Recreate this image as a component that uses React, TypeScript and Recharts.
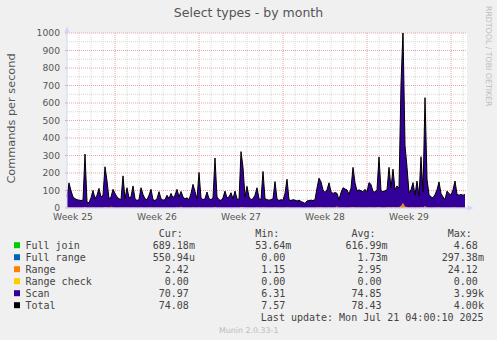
import { Area, CartesianGrid, ComposedChart, Line, ReferenceLine, XAxis, YAxis } from "recharts";

// 4-hour samples (commands per second)
const scan = [
  60, 140, 95, 60, 50, 45, 42, 40, 42, 303,
  30, 28, 55, 97, 50, 70, 108, 60, 70, 230,
  150, 50, 55, 103, 80, 60, 50, 45, 179, 50,
  112, 55, 60, 122, 50, 40, 45, 112, 74, 50,
  45, 70, 103, 45, 40, 50, 90, 50, 42, 45,
  70, 50, 80, 55, 70, 103, 60, 88, 60, 50,
  55, 45, 80, 131, 90, 50, 198, 55, 45, 50,
  88, 50, 45, 55, 280, 60, 45, 40, 55, 93,
  55, 60, 84, 50, 93, 50, 45, 316, 227, 60,
  120, 60, 45, 50, 70, 112, 50, 45, 204, 50,
  45, 42, 45, 50, 147, 50, 40, 45, 42, 80,
  160, 45, 40, 45, 42, 38, 42, 35, 30, 25,
  38, 40, 42, 40, 45, 110, 166, 145, 100, 85,
  100, 140, 90, 80, 85, 75, 45, 85, 112, 105,
  100, 75, 110, 227, 140, 95, 100, 95, 90, 103,
  90, 141, 131, 90, 88, 100, 286, 95, 90, 95,
  100, 227, 110, 217, 100, 122, 110, 697, 983, 350,
  228, 84, 100, 141, 70, 150, 65, 287, 90, 620,
  160, 74, 60, 55, 74, 100, 145, 80, 60, 46,
  93, 80, 70, 100, 150, 75, 70, 74, 70, 74,
];

const range = [
  3.1, 2.8, 2.6, 2.4, 2.5, 2.2, 2.1, 2.3, 2.0, 4.2,
  2.1, 1.8, 2.2, 2.9, 2.4, 2.6, 3.4, 2.5, 2.7, 4.8,
  3.6, 2.9, 6.1, 3.2, 2.8, 2.6, 2.4, 2.2, 3.9, 2.3,
  3.0, 2.4, 2.6, 3.3, 2.4, 2.1, 2.2, 3.1, 2.6, 2.3,
  2.2, 2.5, 3.0, 2.1, 2.0, 2.2, 2.8, 2.3, 2.1, 2.2,
  2.6, 2.3, 2.7, 2.4, 2.6, 3.0, 2.5, 5.8, 2.6, 2.3,
  2.4, 2.2, 2.7, 3.4, 2.9, 2.3, 4.1, 2.4, 2.2, 2.3,
  2.8, 2.3, 2.2, 2.4, 4.9, 2.5, 2.2, 2.1, 2.4, 2.9,
  2.4, 2.5, 2.8, 2.3, 2.9, 2.3, 2.2, 5.2, 4.3, 2.5,
  3.1, 2.5, 2.2, 2.3, 2.6, 3.0, 2.3, 2.2, 4.0, 2.3,
  2.2, 2.1, 2.2, 2.3, 3.3, 2.3, 2.0, 2.2, 2.1, 2.7,
  3.5, 2.2, 2.0, 2.2, 2.1, 1.9, 2.1, 1.8, 1.6, 1.2,
  1.9, 2.0, 2.1, 2.0, 2.2, 3.0, 3.8, 3.5, 2.9, 2.7,
  2.9, 3.4, 2.8, 2.7, 2.7, 8.3, 2.2, 2.7, 3.0, 2.9,
  2.9, 2.6, 3.0, 4.4, 3.4, 2.9, 3.0, 2.9, 2.8, 3.0,
  2.8, 3.4, 3.3, 2.8, 2.8, 3.0, 5.1, 2.9, 2.8, 2.9,
  3.0, 4.5, 3.0, 4.3, 3.0, 3.2, 3.0, 9.6, 24.1, 6.2,
  4.5, 2.7, 3.0, 3.4, 2.6, 3.5, 2.5, 5.0, 2.8, 8.8,
  3.5, 2.6, 2.4, 2.3, 2.6, 3.0, 3.4, 2.7, 2.4, 2.2,
  2.8, 2.7, 2.6, 3.0, 3.5, 2.6, 2.6, 2.6, 2.5, 2.4,
];

const fullJoin = [
  0.6, 0.7, 0.6, 0.5, 0.6, 0.6, 0.5, 0.5, 0.6, 0.9,
  0.5, 0.4, 0.5, 0.7, 0.6, 0.6, 0.8, 0.6, 0.6, 0.9,
  0.8, 0.6, 0.7, 0.7, 0.6, 0.6, 0.5, 0.5, 0.8, 0.5,
  0.7, 0.5, 0.6, 0.7, 0.5, 0.5, 0.5, 0.7, 0.6, 0.5,
  0.5, 0.6, 0.7, 0.5, 0.5, 0.5, 0.6, 0.5, 0.5, 0.5,
  0.6, 0.5, 0.6, 0.5, 0.6, 0.7, 0.6, 0.7, 0.6, 0.5,
  0.6, 0.5, 0.6, 0.7, 0.6, 0.5, 0.8, 0.5, 0.5, 0.5,
  0.6, 0.5, 0.5, 0.5, 0.9, 0.6, 0.5, 0.5, 0.5, 0.6,
  0.5, 0.6, 0.6, 0.5, 0.6, 0.5, 0.5, 1.0, 0.8, 0.6,
  0.7, 0.6, 0.5, 0.5, 0.6, 0.7, 0.5, 0.5, 0.8, 0.5,
  0.5, 0.5, 0.5, 0.5, 0.7, 0.5, 0.4, 0.5, 0.5, 0.6,
  0.7, 0.5, 0.4, 0.5, 0.5, 0.4, 0.5, 0.4, 0.3, 0.1,
  0.4, 0.4, 0.5, 0.4, 0.5, 0.6, 0.7, 0.7, 0.6, 0.6,
  0.6, 0.7, 0.6, 0.6, 0.6, 0.6, 0.5, 0.6, 0.7, 0.6,
  0.6, 0.6, 0.7, 0.8, 0.7, 0.6, 0.6, 0.6, 0.6, 0.7,
  0.6, 0.7, 0.7, 0.6, 0.6, 0.6, 0.9, 0.6, 0.6, 0.6,
  0.7, 0.8, 0.7, 0.8, 0.6, 0.7, 0.7, 2.1, 4.6, 1.3,
  1.0, 0.6, 0.7, 0.7, 0.6, 0.7, 0.6, 0.9, 0.6, 1.6,
  0.8, 0.6, 0.6, 0.5, 0.6, 0.7, 0.7, 0.6, 0.6, 0.5,
  0.6, 0.6, 0.6, 0.7, 0.7, 0.6, 0.6, 0.7, 0.6, 0.7,
];

const fullRange = [
  0, 0, 0, 0, 0, 0, 0, 0, 0, 0,
  0, 0, 0, 0, 0, 0, 0, 0, 0, 0,
  0, 0, 0, 0, 0, 0, 0, 0, 0, 0,
  0, 0, 0, 0, 0, 0, 0, 0, 0, 0,
  0, 0, 0, 0, 0, 0, 0, 0, 0, 0,
  0, 0, 0, 0, 0, 0, 0, 0, 0, 0,
  0, 0, 0, 0, 0, 0, 0, 0, 0, 0,
  0, 0, 0, 0, 0, 0, 0, 0, 0, 0,
  0, 0, 0, 0, 0, 0, 0, 0.01, 0, 0,
  0, 0, 0, 0, 0, 0, 0, 0, 0, 0,
  0, 0, 0, 0, 0, 0, 0, 0, 0, 0,
  0, 0, 0, 0, 0, 0, 0, 0, 0, 0,
  0, 0, 0, 0, 0, 0, 0, 0, 0, 0,
  0, 0, 0, 0, 0, 0, 0, 0, 0, 0,
  0, 0, 0, 0, 0, 0, 0, 0, 0, 0,
  0, 0, 0, 0, 0, 0, 0, 0, 0, 0,
  0, 0, 0, 0, 0, 0, 0, 0.05, 0.3, 0,
  0, 0, 0, 0, 0, 0, 0, 0, 0, 0,
  0, 0, 0, 0, 0, 0, 0, 0, 0, 0,
  0, 0, 0, 0, 0, 0, 0, 0, 0, 0,
];

const rangeCheck = [
  0, 0, 0, 0, 0, 0, 0, 0, 0, 0, 0, 0, 0, 0, 0, 0, 0, 0, 0, 0,
  0, 0, 0, 0, 0, 0, 0, 0, 0, 0, 0, 0, 0, 0, 0, 0, 0, 0, 0, 0,
  0, 0, 0, 0, 0, 0, 0, 0, 0, 0, 0, 0, 0, 0, 0, 0, 0, 0, 0, 0,
  0, 0, 0, 0, 0, 0, 0, 0, 0, 0, 0, 0, 0, 0, 0, 0, 0, 0, 0, 0,
  0, 0, 0, 0, 0, 0, 0, 0, 0, 0, 0, 0, 0, 0, 0, 0, 0, 0, 0, 0,
  0, 0, 0, 0, 0, 0, 0, 0, 0, 0, 0, 0, 0, 0, 0, 0, 0, 0, 0, 0,
  0, 0, 0, 0, 0, 0, 0, 0, 0, 0, 0, 0, 0, 0, 0, 0, 0, 0, 0, 0,
  0, 0, 0, 0, 0, 0, 0, 0, 0, 0, 0, 0, 0, 0, 0, 0, 0, 0, 0, 0,
  0, 0, 0, 0, 0, 0, 0, 0, 0, 0, 0, 0, 0, 0, 0, 0, 0, 0, 0, 0,
  0, 0, 0, 0, 0, 0, 0, 0, 0, 0, 0, 0, 0, 0, 0, 0, 0, 0, 0, 0,
];

const stepHours = 4;
const weekStartHours = [96, 264, 432, 600, 768];
const weekLabelHours = [12, 180, 348, 516, 684];
const weekLabels = ["Week 25", "Week 26", "Week 27", "Week 28", "Week 29"];
const dayHours = Array.from({ length: 33 }, (_, k) => 24 * (k + 1)).filter((h) => !weekStartHours.includes(h));
const majorY = [0, 100, 200, 300, 400, 500, 600, 700, 800, 900, 1000];
const minorY = [50, 150, 250, 350, 450, 550, 650, 750, 850, 950];

const seriesNames = ["Full join", "Full range", "Range", "Range check", "Scan", "Total"];
const seriesKeys = ["fullJoin", "fullRange", "range", "rangeCheck", "scan"];
const seriesColors = ["#00CC00", "#0066B3", "#FF8000", "#FFCC00", "#330099", "#000000"];
const curValues = ["689.18m", "550.94u", "2.42", "0.00", "70.97", "74.08"];
const minValues = ["53.64m", "0.00", "1.15", "0.00", "6.31", "7.57"];
const avgValues = ["616.99m", "1.73m", "2.95", "0.00", "74.85", "78.43"];
const maxValues = ["4.68", "297.38m", "24.12", "0.00", "3.99k", "4.00k"];
const columnHeads = ["Cur:", "Min:", "Avg:", "Max:"];

const rows = scan.map((s, i) => ({
  t: i * stepHours,
  fullJoin: fullJoin[i],
  fullRange: fullRange[i],
  range: range[i],
  rangeCheck: rangeCheck[i],
  scan: s,
  total: fullJoin[i] + fullRange[i] + range[i] + rangeCheck[i] + s,
}));

const sans = "DejaVu Sans, sans-serif";
const mono = "DejaVu Sans Mono, monospace";
const axisBlue = "#CFD6F8";
const minorGrid = "#d6d6d6";
const majorGrid = "#eda3a3";
const colEnds = [188.9, 285.3, 381.6, 477.9];
const rowTop = 236.9;
const rowGap = 12;
const layer = { position: "absolute" as const, left: 0, top: 0 };
const chartMargin = { top: 33, right: 30, bottom: 102, left: 7 };
const tickFont = { fill: "#555", fontSize: 9.2, fontFamily: sans };

function ValueCell({ value, x, y }: { value: string; x: number; y: number }) {
  const m = value.match(/^([\d.]+)([a-z]?)$/);
  const num = m ? m[1] : value;
  const unit = m ? m[2] : "";
  return (
    <>
      <text x={x} y={y} textAnchor="end">{num}</text>
      {unit && <text x={x} y={y}>{unit}</text>}
    </>
  );
}

// canvas + dotted grid, drawn under the data chart with the same plot box
function GridLayer() {
  return (
    <ComposedChart width={497} height={340} data={rows} margin={chartMargin}>
      <CartesianGrid fill="#ffffff" horizontal={false} vertical={false} />
      <XAxis type="number" dataKey="t" domain={[0, 800]} height={30} tick={false} tickLine={false} axisLine={false} />
      <YAxis type="number" domain={[0, 1000]} allowDataOverflow width={60} tick={false} tickLine={false} axisLine={false} />
      <Line dataKey="total" stroke="none" dot={false} activeDot={false} isAnimationActive={false} />
      {dayHours.map((h) => (
        <ReferenceLine key={`d${h}`} x={h} stroke={minorGrid} strokeDasharray="1 1" ifOverflow="visible" />
      ))}
      {minorY.map((v) => (
        <ReferenceLine key={`m${v}`} y={v} stroke={minorGrid} strokeDasharray="1 1" ifOverflow="visible" />
      ))}
      {weekStartHours.map((h) => (
        <ReferenceLine key={`w${h}`} x={h} stroke={majorGrid} strokeDasharray="1 1" ifOverflow="visible" />
      ))}
      {majorY.map((v) => (
        <ReferenceLine key={`M${v}`} y={v} stroke={majorGrid} strokeDasharray="1 1" ifOverflow="visible" />
      ))}
    </ComposedChart>
  );
}

export default function App() {
  const columns = [curValues, minValues, avgValues, maxValues];
  return (
    <div style={{ ...layer, width: 497, height: 340, background: "#F0F0F0" }}>
      <div style={layer}>
        <GridLayer />
      </div>
      <div style={layer}>
        <ComposedChart width={497} height={340} data={rows} margin={chartMargin}>
          <XAxis
            type="number"
            dataKey="t"
            domain={[0, 800]}
            ticks={weekLabelHours}
            interval={0}
            tickFormatter={(h: number) => weekLabels[weekLabelHours.indexOf(h)]}
            height={30}
            tickLine={false}
            tickSize={0}
            tickMargin={5}
            axisLine={{ stroke: axisBlue }}
            tick={tickFont}
          />
          <YAxis
            type="number"
            domain={[0, 1000]}
            ticks={majorY}
            interval={0}
            width={60}
            tickSize={2}
            tickMargin={5}
            allowDataOverflow
            axisLine={{ stroke: axisBlue }}
            tickLine={{ stroke: "#c8b4b4" }}
            tick={tickFont}
          />
          {seriesKeys.map((key, i) => (
            <Area
              key={key}
              type="linear"
              dataKey={key}
              stackId="s"
              fill={seriesColors[i]}
              fillOpacity={1}
              stroke="none"
              dot={false}
              activeDot={false}
              isAnimationActive={false}
            />
          ))}
          <Line type="linear" dataKey="total" stroke="#000000" strokeWidth={1} dot={false} activeDot={false} isAnimationActive={false} />
        </ComposedChart>
      </div>

      <svg width={497} height={340} style={{ ...layer, pointerEvents: "none" }}>
        <polygon points="67,26.5 64.3,32.5 69.7,32.5" fill={axisBlue} />
        <line x1={467} y1={208} x2={469} y2={208} stroke={axisBlue} />
        <polygon points="473.5,208 467.5,205.3 467.5,210.7" fill={axisBlue} />

        <text x={248.5} y={17} textAnchor="middle" fontFamily={sans} fontSize={12.5} fill="#555">
          Select types - by month
        </text>
        <text x={14.5} y={118.5} textAnchor="middle" fontFamily={sans} fontSize={11.3} fill="#555" transform="rotate(-90 14.5 118.5)">
          Commands per second
        </text>
        <text x={486} y={6} fontFamily={sans} fontSize={7.8} fill="#bdbdbd" transform="rotate(90 486 6)">
          RRDTOOL / TOBI OETIKER
        </text>

        <g fontFamily={mono} fontSize={10} fill="#444">
          {columnHeads.map((h, c) => (
            <text key={h} x={colEnds[c] - 6} y={rowTop} textAnchor="end">{h}</text>
          ))}
          {seriesNames.map((name, r) => {
            const y = rowTop + rowGap * (r + 1);
            return (
              <g key={name}>
                <rect x={14} y={y - 6.7} width={6} height={6} fill={seriesColors[r]} />
                <text x={25.5} y={y}>{name}</text>
                {columns.map((col, c) => (
                  <ValueCell key={c} value={col[r]} x={colEnds[c]} y={y} />
                ))}
              </g>
            );
          })}
          <text x={483.6} y={rowTop + rowGap * 7} textAnchor="end">Last update: Mon Jul 21 04:00:10 2025</text>
        </g>
        <text x={248.7} y={332.5} textAnchor="middle" fontFamily={sans} fontSize={7.9} fill="#bbbbbb">
          Munin 2.0.33-1
        </text>
      </svg>
    </div>
  );
}
